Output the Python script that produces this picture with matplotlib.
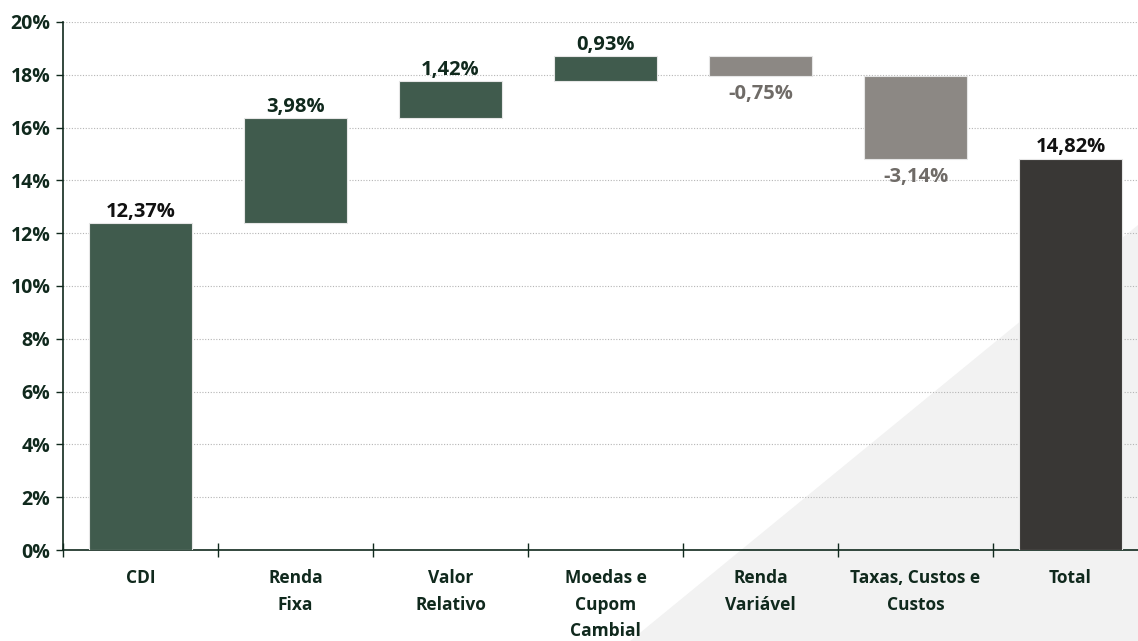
import matplotlib
matplotlib.use("Agg")
import matplotlib.pyplot as plt
from matplotlib.patches import Polygon
import numpy as np

categories = ["CDI", "Renda\nFixa", "Valor\nRelativo", "Moedas e\nCupom\nCambial",
              "Renda\nVariável", "Taxas, Custos e\nCustos", "Total"]
values = [12.37, 3.98, 1.42, 0.93, -0.75, -3.14, 14.82]
labels = ["12,37%", "3,98%", "1,42%", "0,93%", "-0,75%", "-3,14%", "14,82%"]
yticks = [0, 2, 4, 6, 8, 10, 12, 14, 16, 18, 20]
ytick_labels = [f"{v}%" for v in yticks]

GREEN = "#405b4d"
GRAY = "#8c8884"
DARK = "#393735"
TXT = "#10291d"

plt.rcParams['font.family'] = ['Open Sans', 'DejaVu Sans']

fig = plt.figure(figsize=(11.38, 6.41), dpi=100)
# background light triangle
bg = fig.add_axes([0, 0, 1, 1], zorder=0)
bg.set_xlim(0, 1138); bg.set_ylim(641, 0); bg.axis('off')
bg.add_patch(Polygon([(630, 641), (1138, 225), (1138, 641)], closed=True,
                     facecolor="#f2f2f2", edgecolor="none"))

ax = fig.add_axes([63/1138, (641-550)/641, 1085/1138, (550-22)/641], zorder=1)
ax.patch.set_alpha(0)

n = len(values)
x = np.arange(n)
bottoms, heights, colors = [], [], []
cum = 0.0
for i, v in enumerate(values):
    if i == 0:
        b, h, c = 0, v, GREEN
        cum = v
    elif i == n - 1:
        b, h, c = 0, v, DARK
    else:
        if v >= 0:
            b, h, c = cum, v, GREEN
        else:
            b, h, c = cum + v, -v, GRAY
        cum += v
    bottoms.append(b); heights.append(h); colors.append(c)

ax.bar(x, heights, bottom=bottoms, width=0.67, color=colors,
       edgecolor="#e6e6e6", linewidth=0.8, zorder=3)

for i, v in enumerate(values):
    top = bottoms[i] + heights[i]
    if v >= 0:
        ax.text(x[i], top + 0.05, labels[i], ha='center', va='bottom',
                fontsize=14.5, fontweight='bold',
                color="#111111" if i in (0, n - 1) else TXT)
    else:
        ax.text(x[i], bottoms[i] - 0.3, labels[i], ha='center', va='top',
                fontsize=14.5, fontweight='bold', color="#6f6b67")

ax.set_xlim(-0.5, n - 0.5)
ax.set_ylim(0, 20)
ax.set_yticks(yticks)
ax.set_yticklabels(ytick_labels, fontsize=14, fontweight='bold', color=TXT)
ax.set_xticks(x)
ax.set_xticklabels(categories, fontsize=12.5, fontweight='bold', color=TXT,
                   linespacing=1.6, va='top')
ax.tick_params(axis='x', which='major', length=0, pad=14)
ax.set_xticks(np.arange(0, n) - 0.5, minor=True)
ax.tick_params(axis='x', which='minor', length=10, direction='inout', color=TXT, width=1)
ax.tick_params(axis='y', length=5, direction='out', color=TXT, width=1, pad=4)

ax.yaxis.grid(True, linestyle=(0, (1, 1.5)), color="#b5b5b5", linewidth=0.8, zorder=0)
ax.set_axisbelow(True)
for s in ['top', 'right']:
    ax.spines[s].set_visible(False)
for s in ['left', 'bottom']:
    ax.spines[s].set_color(TXT)
    ax.spines[s].set_linewidth(1.2)

fig.savefig("out.png", dpi=100)
